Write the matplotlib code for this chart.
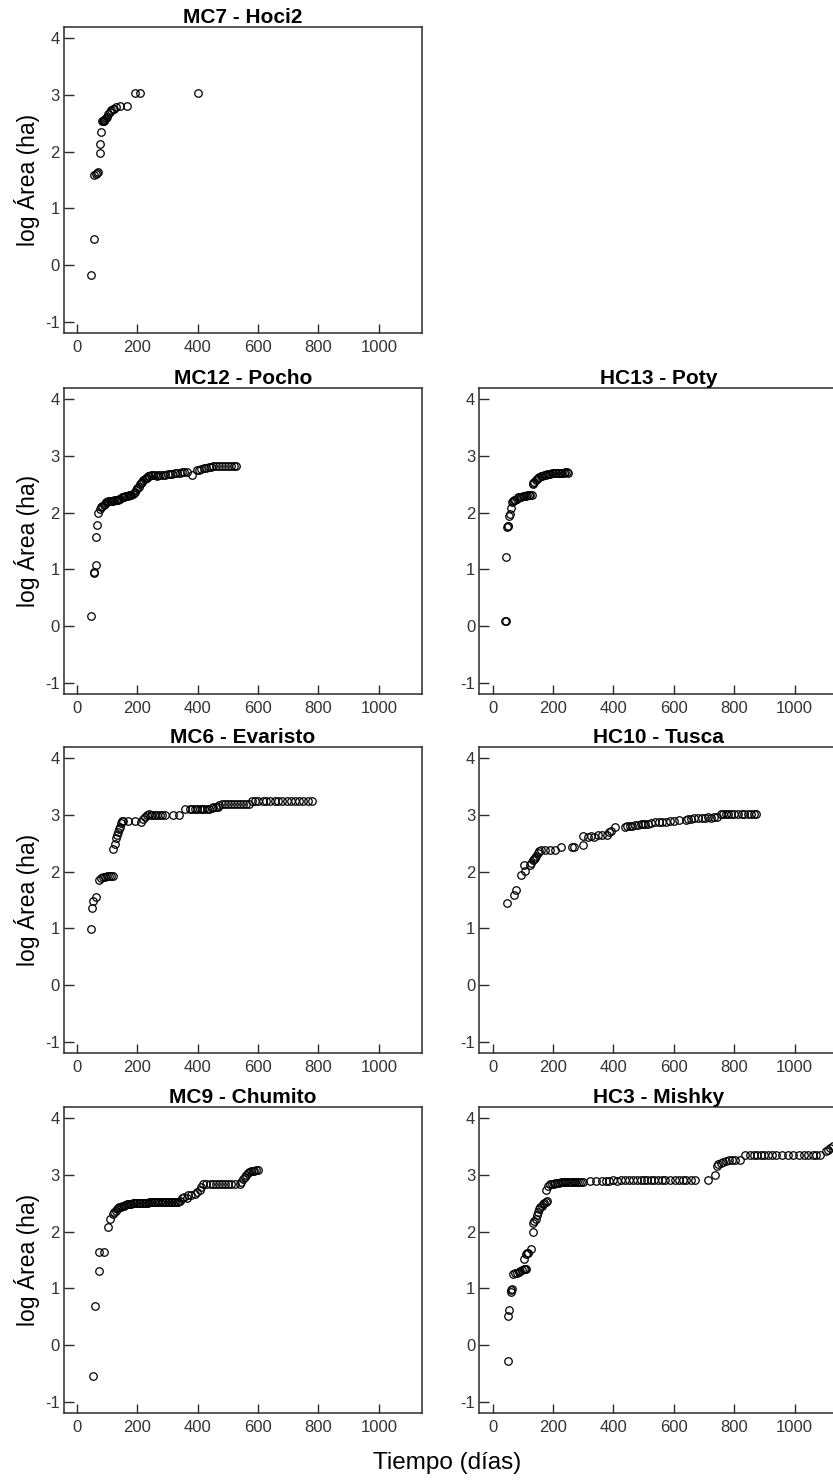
import matplotlib
matplotlib.use("Agg")
import matplotlib.pyplot as plt

plt.rcParams["font.family"] = ["Liberation Sans", "DejaVu Sans"]
plt.rcParams["axes.unicode_minus"] = False

# ---- data: days since first record vs log10 home-range area (ha) ----
hoci2_x = [48, 55, 58, 62, 66, 70, 76, 76, 80, 82, 85, 88, 91, 94, 97, 100, 104,
           108, 113, 118, 124, 130, 142, 167, 192, 209, 400]
hoci2_y = [-0.18, 0.46, 1.59, 1.61, 1.63, 1.65, 1.97, 2.14, 2.35, 2.54, 2.55, 2.55,
           2.56, 2.57, 2.60, 2.62, 2.66, 2.70, 2.73, 2.75, 2.76, 2.78, 2.80, 2.80,
           3.04, 3.04, 3.04]

pocho_x = [45, 56, 58, 63, 62, 66, 71, 76, 80, 84, 88, 92, 96, 100, 104, 108, 112,
           116, 120, 124, 128, 132, 136, 140, 144, 148, 152, 156, 160, 164, 168, 172,
           176, 180, 184, 188, 192, 196, 200, 204, 208, 212, 216, 220, 224, 228, 232,
           236, 240, 246, 252, 258, 264, 270, 276, 284, 292, 300, 308, 316, 324, 332,
           340, 348, 356, 364, 380, 396, 404, 412, 420, 428, 436, 444, 452, 460, 470,
           480, 490, 500, 510, 520, 528]
pocho_y = [0.18, 0.94, 0.96, 1.08, 1.57, 1.78, 1.99, 2.06, 2.10, 2.12, 2.14, 2.15, 2.18,
           2.19, 2.20, 2.20, 2.21, 2.21, 2.21, 2.22, 2.22, 2.22, 2.23, 2.24, 2.25, 2.27,
           2.28, 2.28, 2.29, 2.30, 2.30, 2.31, 2.31, 2.31, 2.33, 2.35, 2.37, 2.40, 2.43,
           2.46, 2.50, 2.53, 2.55, 2.57, 2.59, 2.61, 2.62, 2.64, 2.65, 2.66, 2.66, 2.66,
           2.65, 2.66, 2.66, 2.67, 2.67, 2.68, 2.68, 2.69, 2.70, 2.70, 2.70, 2.71, 2.71,
           2.71, 2.66, 2.76, 2.76, 2.77, 2.78, 2.79, 2.80, 2.81, 2.82, 2.82, 2.82, 2.82,
           2.82, 2.82, 2.82, 2.82, 2.82]

poty_x = [40, 45, 44, 47, 50, 52, 55, 58, 60, 63, 66, 70, 75, 80, 85, 90, 95, 100, 105,
          110, 115, 120, 125, 130, 132, 135, 138, 142, 146, 150, 155, 160, 165, 170, 175,
          180, 185, 190, 195, 200, 205, 210, 215, 220, 225, 230, 235, 240, 245, 250]
poty_y = [0.09, 0.09, 1.22, 1.75, 1.77, 1.76, 1.95, 1.97, 2.08, 2.18, 2.20, 2.22, 2.23,
          2.25, 2.27, 2.28, 2.28, 2.29, 2.30, 2.30, 2.31, 2.31, 2.32, 2.32, 2.50, 2.52,
          2.55, 2.58, 2.60, 2.62, 2.63, 2.64, 2.65, 2.66, 2.66, 2.68, 2.69, 2.69, 2.70,
          2.70, 2.70, 2.70, 2.70, 2.70, 2.70, 2.70, 2.70, 2.71, 2.71, 2.70]

evaristo_x = [45, 51, 54, 63, 74, 80, 86, 93, 100, 106, 112, 118, 120, 126, 128, 134,
              137, 140, 142, 146, 150, 154, 170, 192, 213, 220, 226, 232, 238, 244, 250,
              258, 266, 274, 282, 292, 318, 338, 358, 374, 382, 390, 398, 406, 414, 422,
              430, 438, 446, 452, 460, 466, 472, 480, 490, 500, 510, 520, 530, 540, 550,
              560, 570, 580, 590, 600, 615, 625, 640, 655, 665, 680, 695, 710, 722, 735,
              750, 765, 778]
evaristo_y = [0.99, 1.36, 1.49, 1.56, 1.86, 1.88, 1.90, 1.91, 1.92, 1.93, 1.92, 1.92,
              2.40, 2.48, 2.60, 2.64, 2.70, 2.75, 2.78, 2.86, 2.90, 2.90, 2.89, 2.89,
              2.87, 2.93, 2.97, 3.00, 3.01, 3.00, 3.00, 3.00, 3.00, 3.00, 3.00, 3.00,
              3.00, 3.00, 3.11, 3.10, 3.10, 3.10, 3.10, 3.10, 3.10, 3.10, 3.10, 3.11,
              3.12, 3.14, 3.15, 3.14, 3.17, 3.20, 3.20, 3.20, 3.20, 3.20, 3.19, 3.19,
              3.19, 3.19, 3.19, 3.24, 3.24, 3.24, 3.24, 3.24, 3.24, 3.24, 3.24, 3.24,
              3.24, 3.24, 3.24, 3.24, 3.24, 3.24, 3.24]

tusca_x = [49, 71, 76, 93, 104, 107, 124, 128, 132, 136, 140, 145, 150, 155, 160, 173,
           190, 207, 227, 262, 270, 300, 300, 315, 325, 335, 350, 361, 378, 385, 391,
           406, 438, 446, 454, 462, 472, 482, 490, 498, 506, 516, 526, 538, 550, 562,
           574, 586, 600, 618, 640, 648, 656, 668, 680, 692, 702, 712, 722, 732, 744,
           756, 764, 772, 780, 790, 800, 812, 826, 832, 846, 856, 866, 873]
tusca_y = [1.44, 1.59, 1.68, 1.95, 2.12, 2.02, 2.12, 2.15, 2.20, 2.22, 2.25, 2.28, 2.33,
           2.36, 2.38, 2.39, 2.39, 2.39, 2.43, 2.43, 2.43, 2.47, 2.63, 2.62, 2.63, 2.62,
           2.65, 2.65, 2.64, 2.70, 2.72, 2.78, 2.79, 2.80, 2.80, 2.81, 2.82, 2.83, 2.84,
           2.84, 2.84, 2.84, 2.86, 2.88, 2.88, 2.88, 2.88, 2.90, 2.90, 2.92, 2.92, 2.93,
           2.93, 2.94, 2.94, 2.95, 2.95, 2.96, 2.95, 2.96, 2.97, 3.01, 3.01, 3.01, 3.01,
           3.01, 3.01, 3.01, 3.01, 3.01, 3.01, 3.01, 3.01, 3.01]

chumito_x = [54, 61, 73, 73, 89, 102, 111, 120, 124, 128, 131, 136, 140, 145, 150, 155,
             160, 165, 170, 175, 180, 185, 190, 195, 200, 205, 210, 215, 220, 225, 230,
             235, 240, 245, 250, 255, 260, 265, 270, 275, 280, 285, 290, 295, 300, 305,
             310, 315, 320, 325, 330, 336, 341, 347, 355, 363, 369, 378, 390, 398, 407,
             412, 418, 428, 440, 452, 460, 470, 480, 490, 500, 510, 522, 540, 545, 550,
             555, 560, 565, 570, 576, 582, 588, 594, 600]
chumito_y = [-0.55, 0.68, 1.30, 1.64, 1.64, 2.09, 2.22, 2.31, 2.34, 2.37, 2.40, 2.42,
             2.43, 2.44, 2.45, 2.46, 2.47, 2.49, 2.49, 2.49, 2.49, 2.50, 2.50, 2.50, 2.50,
             2.50, 2.50, 2.50, 2.50, 2.50, 2.51, 2.51, 2.52, 2.52, 2.52, 2.52, 2.52, 2.52,
             2.52, 2.52, 2.52, 2.52, 2.52, 2.52, 2.52, 2.52, 2.53, 2.53, 2.53, 2.53, 2.53,
             2.53, 2.54, 2.60, 2.62, 2.60, 2.64, 2.64, 2.66, 2.70, 2.74, 2.78, 2.84, 2.84,
             2.84, 2.84, 2.84, 2.84, 2.84, 2.84, 2.84, 2.84, 2.84, 2.84, 2.88, 2.93, 2.97,
             3.00, 3.04, 3.06, 3.07, 3.07, 3.07, 3.08, 3.08]

mishky_x = [52, 50, 55, 60, 62, 65, 68, 73, 80, 86, 92, 98, 104, 108, 112, 105, 110,
            114, 118, 128, 132, 135, 138, 142, 146, 150, 154, 158, 162, 166, 170, 175,
            180, 178, 184, 190, 196, 202, 208, 214, 220, 226, 232, 238, 244, 250, 256,
            262, 268, 274, 280, 286, 292, 298, 322, 342, 362, 375, 385, 400, 412, 425,
            440, 452, 465, 478, 490, 500, 512, 524, 536, 548, 560, 572, 588, 604, 616,
            630, 642, 656, 670, 712, 737, 742, 748, 755, 762, 772, 782, 792, 804, 818,
            837, 852, 866, 876, 888, 900, 912, 924, 940, 960, 978, 996, 1014, 1030, 1046,
            1060, 1072, 1084, 1104, 1110, 1118, 1126]
mishky_y = [-0.28, 0.52, 0.62, 0.93, 0.97, 0.99, 1.26, 1.27, 1.27, 1.29, 1.30, 1.33,
            1.34, 1.34, 1.34, 1.52, 1.60, 1.63, 1.62, 1.70, 2.00, 2.15, 2.18, 2.22, 2.30,
            2.35, 2.40, 2.43, 2.46, 2.48, 2.50, 2.52, 2.55, 2.73, 2.80, 2.84, 2.85, 2.85,
            2.86, 2.86, 2.86, 2.87, 2.87, 2.88, 2.88, 2.88, 2.88, 2.88, 2.88, 2.88, 2.88,
            2.88, 2.88, 2.88, 2.90, 2.89, 2.89, 2.90, 2.90, 2.91, 2.90, 2.91, 2.91, 2.91,
            2.91, 2.91, 2.91, 2.91, 2.91, 2.92, 2.92, 2.92, 2.92, 2.92, 2.92, 2.92, 2.92,
            2.92, 2.92, 2.92, 2.92, 2.92, 3.00, 3.16, 3.20, 3.22, 3.23, 3.24, 3.27, 3.27,
            3.27, 3.26, 3.35, 3.35, 3.35, 3.35, 3.35, 3.35, 3.35, 3.35, 3.35, 3.35, 3.35,
            3.35, 3.35, 3.35, 3.35, 3.35, 3.35, 3.35, 3.42, 3.44, 3.48, 3.52]

panel_titles = ["MC7 - Hoci2", "MC12 - Pocho", "HC13 - Poty", "MC6 - Evaristo",
                "HC10 - Tusca", "MC9 - Chumito", "HC3 - Mishky"]
panel_data = [(hoci2_x, hoci2_y), (pocho_x, pocho_y), (poty_x, poty_y),
              (evaristo_x, evaristo_y), (tusca_x, tusca_y),
              (chumito_x, chumito_y), (mishky_x, mishky_y)]
# (row, column) of every panel; the top-right slot stays empty
panel_slots = [(0, 0), (1, 0), (1, 1), (2, 0), (2, 1), (3, 0), (3, 1)]

x_ticks = [0, 200, 400, 600, 800, 1000]
y_ticks = [-1, 0, 1, 2, 3, 4]

for xs, ys in panel_data:
    assert len(xs) == len(ys)

W, H = 833, 1480
fig = plt.figure(figsize=(W / 100, H / 100), dpi=100)

col_left = [63.7, 479.4]     # px
panel_w = 358.6              # px
row_bottom = [333, 694, 1053, 1413]   # px from top
panel_h = 306                # px

frame_col = "#2b2b2b"

for title, (xs, ys), (r, c) in zip(panel_titles, panel_data, panel_slots):
    ax = fig.add_axes([col_left[c] / W, 1 - row_bottom[r] / H, panel_w / W, panel_h / H])
    ax.plot(xs, ys, linestyle="none", marker="o", markersize=5.4,
            markerfacecolor="none", markeredgecolor="black", markeredgewidth=0.9)
    ax.set_xlim(-44, 1144)
    ax.set_ylim(-1.2, 4.2)
    ax.set_xticks(x_ticks)
    ax.set_yticks(y_ticks)
    ax.tick_params(axis="both", direction="in", width=1.0, colors=frame_col,
                   labelsize=12, labelcolor="#333333")
    ax.tick_params(axis="x", length=6.5, pad=5)
    ax.tick_params(axis="y", length=7.5, pad=3)
    for sp in ax.spines.values():
        sp.set_color(frame_col)
        sp.set_linewidth(1.1)
    ax.set_title(title, fontsize=15, fontweight="bold", pad=2)
    if c == 0:
        fig.text(27 / W, 1 - (row_bottom[r] - panel_h / 2) / H, "log Área (ha)",
                 rotation=90, ha="center", va="center", fontsize=16.5, color="black")

fig.text(447 / W, 1 - 1463 / H, "Tiempo (días)", ha="center", va="center",
         fontsize=17.5, color="black")

fig.savefig("out.png", dpi=100, facecolor="white")
